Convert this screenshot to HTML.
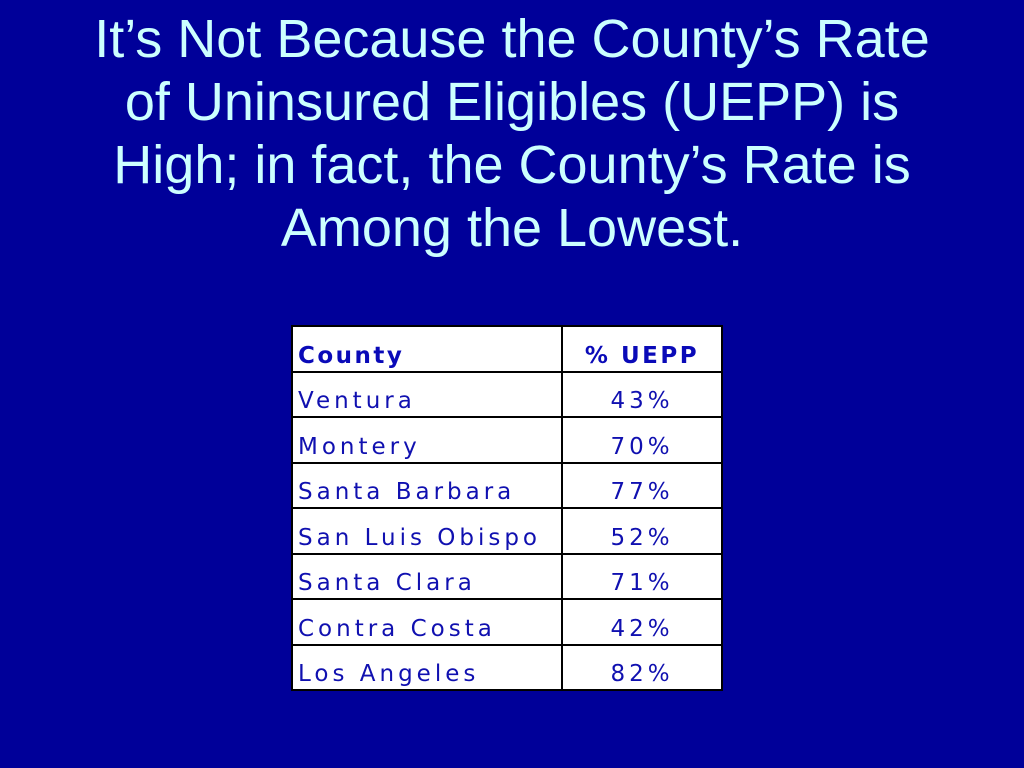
<!DOCTYPE html>
<html><head><meta charset="utf-8"><style>
body{margin:0;width:1024px;height:768px;background:#000099;overflow:hidden;font-family:"Liberation Sans",Arial,sans-serif}
#title{position:absolute;left:0;top:8px;width:1024px;text-align:center;color:#ccffff;font-size:54px;line-height:63px;white-space:nowrap}
table{position:absolute;left:291px;top:325px;border-collapse:collapse;background:#fff;border:2px solid #000;table-layout:fixed}
td{border:2px solid #000;height:41.5px;padding:0 0 0 5px;font-family:"DejaVu Sans",Verdana,sans-serif;font-size:23px;letter-spacing:4px;color:#1010b0;vertical-align:bottom;padding-bottom:2px;white-space:nowrap;overflow:hidden}
td.v{text-align:center;padding-left:0}
tr.h td{font-weight:bold;color:#0a0ab8;letter-spacing:2.5px}
</style></head><body>
<div id="title">It’s Not Because the County’s Rate<br>of Uninsured Eligibles (UEPP) is<br>High; in fact, the County’s Rate is<br>Among the Lowest.</div>
<table>
<colgroup><col style="width:270px"><col style="width:160px"></colgroup>
<tr class="h"><td>County</td><td class="v">% UEPP</td></tr>
<tr><td>Ventura</td><td class="v">43%</td></tr>
<tr><td>Montery</td><td class="v">70%</td></tr>
<tr><td>Santa Barbara</td><td class="v">77%</td></tr>
<tr><td>San Luis Obispo</td><td class="v">52%</td></tr>
<tr><td>Santa Clara</td><td class="v">71%</td></tr>
<tr><td>Contra Costa</td><td class="v">42%</td></tr>
<tr><td>Los Angeles</td><td class="v">82%</td></tr>
</table>
</body></html>
